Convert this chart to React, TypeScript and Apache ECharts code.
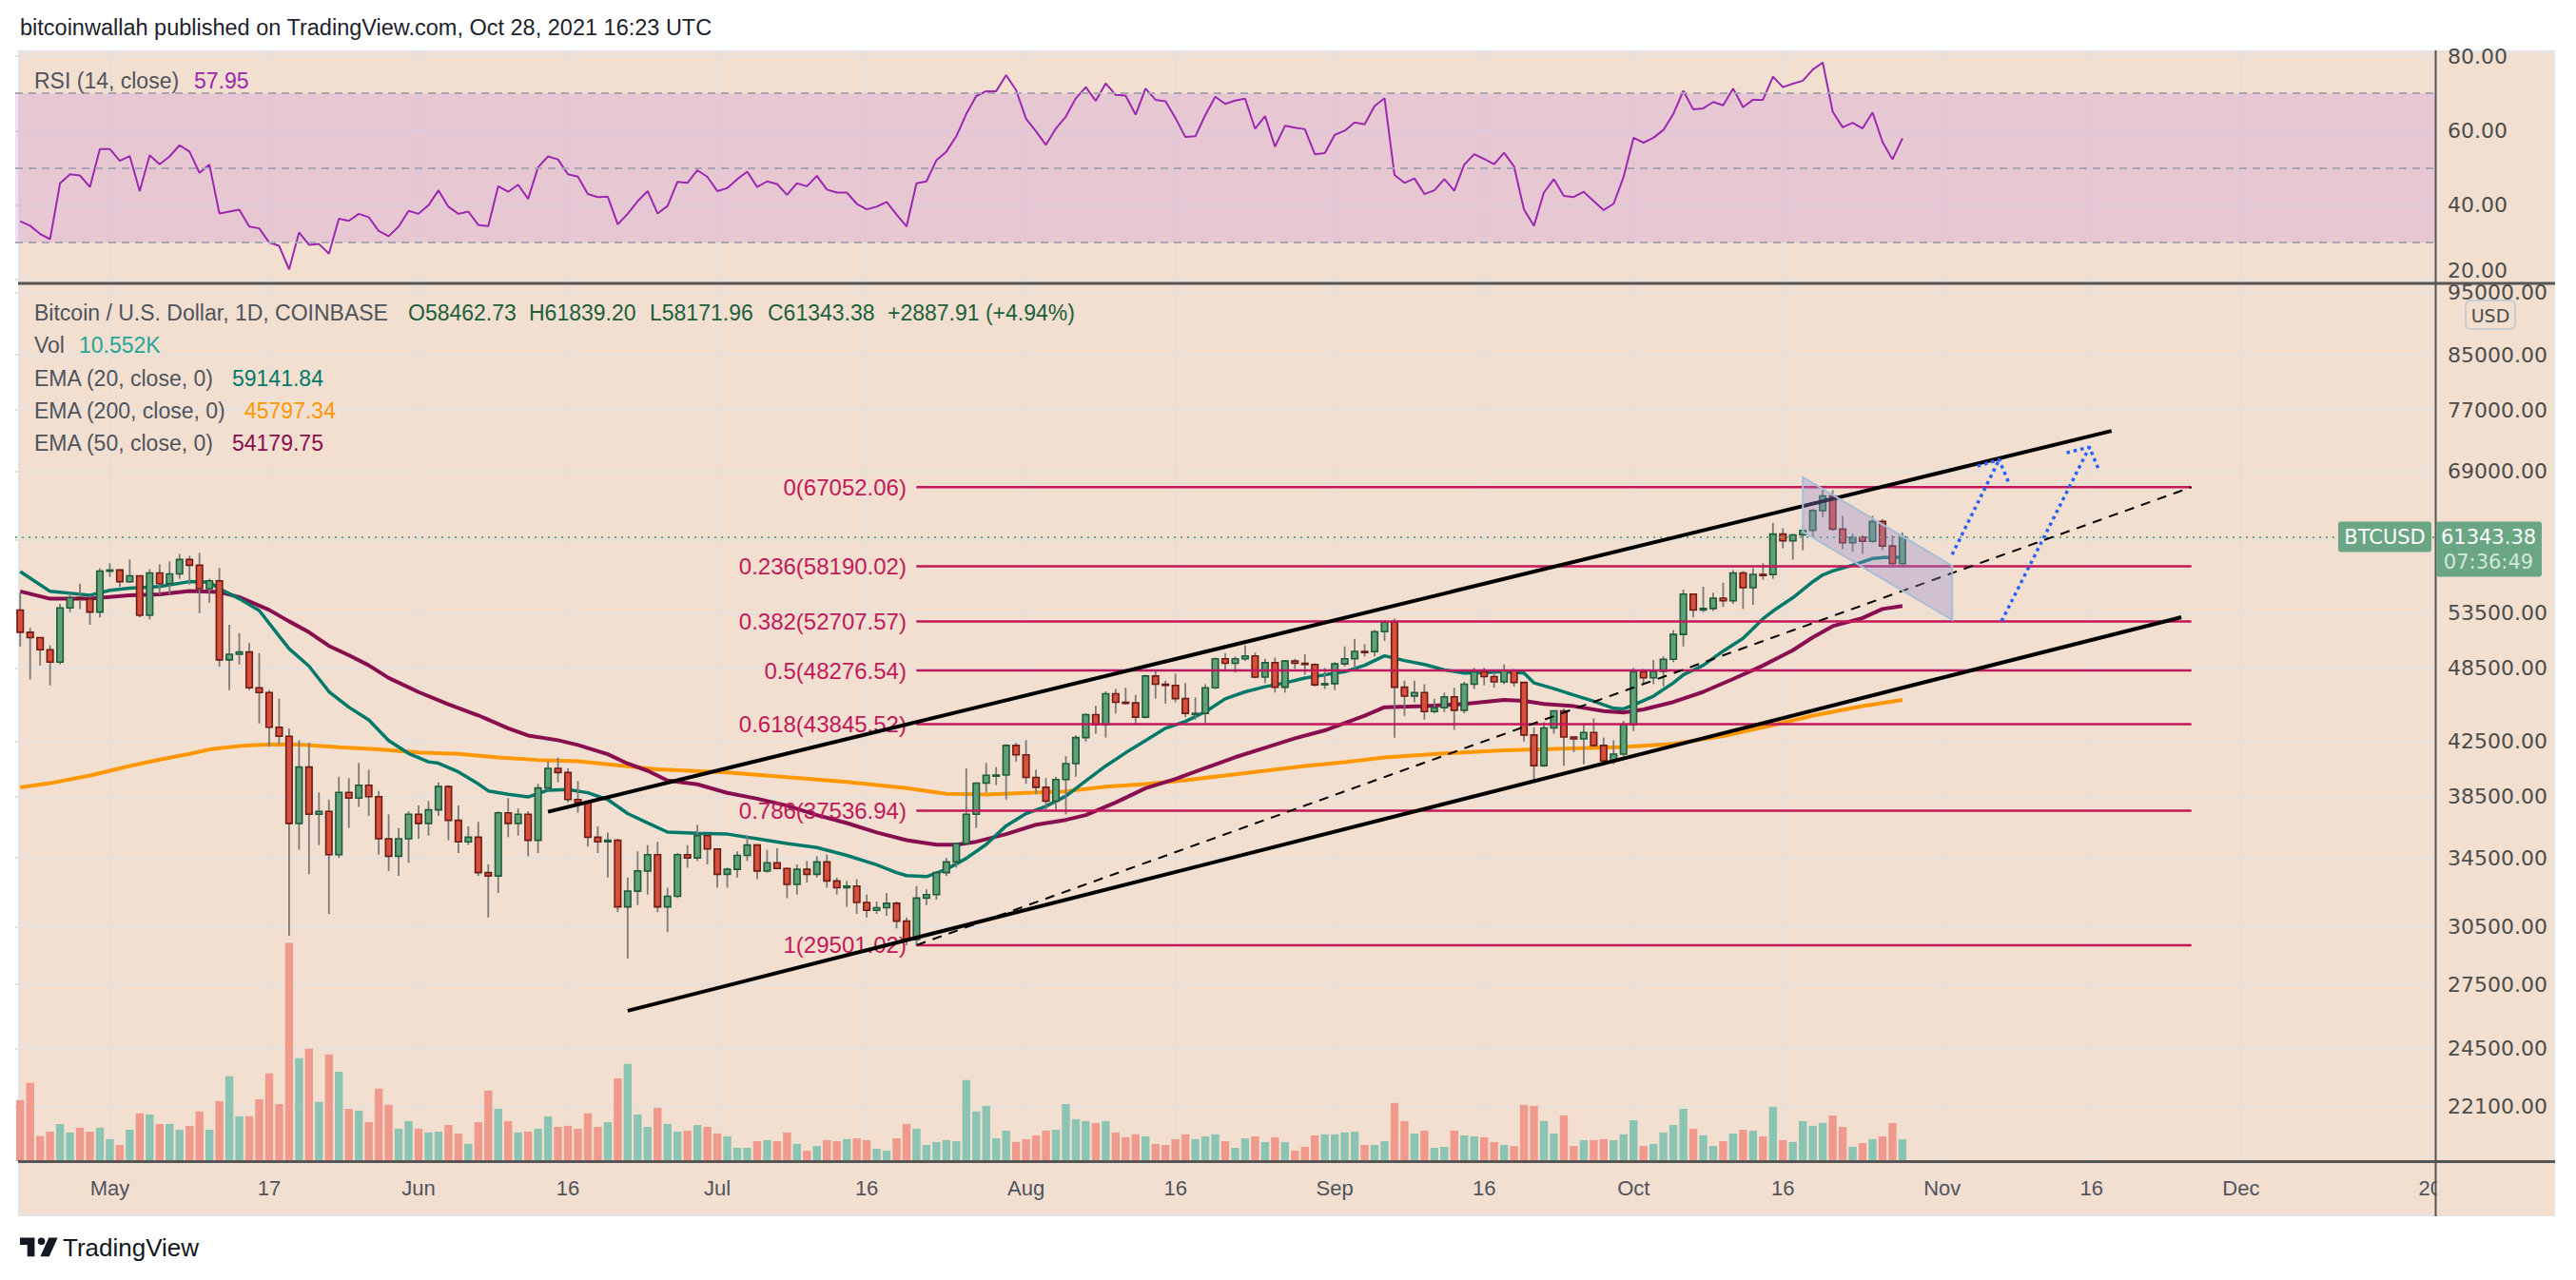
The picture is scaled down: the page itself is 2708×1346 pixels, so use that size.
import React, { useEffect, useRef } from "react";
import * as echarts from "echarts";

const W = 2708;
const H = 1346;
const SANS = '"Liberation Sans", Arial, sans-serif';
const AXF = '"DejaVu Sans", Verdana, sans-serif';

// ---------- categories (one per day, Apr 22 2021 .. Dec 20 2021) ----------
const START_UTC = Date.UTC(2021, 3, 22);
const dates: string[] = [];
for (let i = 0; i < 243; i++) dates.push(new Date(START_UTC + i * 86400000).toISOString().slice(0, 10));

const tickDates = ["2021-05-01", "2021-05-17", "2021-06-01", "2021-06-16", "2021-07-01", "2021-07-16", "2021-08-01", "2021-08-16",
  "2021-09-01", "2021-09-16", "2021-10-01", "2021-10-16", "2021-11-01", "2021-11-16", "2021-12-01", "2021-12-20"];
const tickLabels = ["May", "17", "Jun", "16", "Jul", "16", "Aug", "16", "Sep", "16", "Oct", "16", "Nov", "16", "Dec", "20"];

// ---------- OHLC (Apr 22 .. Oct 28) ----------
const opens = [
  53800, 51700, 51200, 50100, 49000, 54000, 55000, 54900, 53600, 57700,
  57800, 56600, 57200, 53300, 57500, 56400, 57400, 58900, 58300, 55900,
  56700, 49200, 49700, 49900, 46800, 46400, 43600, 42900, 36700, 40600,
  37300, 37500, 34700, 38800, 38400, 39300, 38500, 35700, 34600, 35700,
  37300, 36700, 37600, 39200, 36900, 35500, 35800, 33600, 33400, 37400,
  36700, 37300, 35600, 39100, 40500, 40200, 38300, 38100, 35800, 35500,
  35600, 31600, 32500, 33700, 34700, 31600, 32200, 34700, 34500, 35900,
  35050, 33500, 33800, 34650, 35300, 33700, 34200, 33850, 32900, 33800,
  33500, 34250, 33100, 32700, 32800, 31850, 31400, 31550, 31800, 30800,
  29800, 32100, 32300, 33600, 34250, 35400, 37300, 39450, 40000, 40020,
  42200, 41500, 39850, 39150, 38200, 39700, 40850, 42800, 44600, 43800,
  46300, 45600, 45550, 44400, 47800, 47100, 47000, 45900, 44700, 44700,
  46800, 49300, 48900, 49300, 49550, 47700, 48950, 46850, 49100, 48900,
  48800, 47050, 47150, 48850, 49300, 49950, 49930, 51750, 52650, 46850,
  46100, 46400, 44850, 45150, 46050, 44950, 47100, 48150, 47750, 47300,
  48300, 47250, 43000, 40700, 43550, 44900, 42850, 42700, 43200, 42200,
  41050, 41550, 43800, 48150, 47650, 48200, 49250, 51500, 55350, 53800,
  53950, 54950, 54700, 57500, 56000, 57350, 57340, 61650, 60900, 61550,
  62050, 64300, 66000, 62200, 60700, 61300, 60850, 63050, 60350, 58462.73,
];
const highs = [
  55500, 52100, 51200, 50500, 54400, 55500, 56400, 55200, 58000, 58500,
  57900, 58900, 57200, 57900, 58400, 58700, 59500, 59300, 59600, 56900,
  58000, 52400, 51600, 50700, 49800, 46600, 45900, 43500, 42600, 42400,
  38800, 38300, 39900, 39800, 40900, 40400, 38900, 37300, 36400, 37500,
  37900, 38200, 39500, 39300, 37900, 36500, 36800, 34100, 37500, 38400,
  37700, 37500, 39400, 41000, 41300, 40500, 39600, 38200, 36500, 36100,
  35700, 33300, 34900, 35300, 35500, 32700, 34800, 35300, 36600, 36000,
  35100, 33900, 34900, 35900, 35350, 35000, 35100, 33900, 34100, 34300,
  34600, 34700, 33300, 33100, 33200, 32300, 31900, 32400, 31900, 31000,
  32800, 32600, 33650, 34500, 35450, 40500, 39500, 40900, 40600, 42300,
  42400, 42600, 40400, 39800, 39900, 41400, 43000, 44700, 45300, 46500,
  46700, 46800, 46200, 47900, 48200, 47400, 48000, 47200, 46000, 47100,
  49400, 49800, 49500, 50500, 49850, 49300, 49400, 49200, 49300, 49700,
  48900, 48500, 49000, 50400, 51100, 50600, 51900, 52800, 52950, 47400,
  47400, 47100, 45900, 46400, 46800, 47300, 48500, 48500, 48100, 48800,
  48400, 47300, 43600, 44000, 44950, 45100, 42900, 43900, 44300, 42800,
  42600, 44100, 48500, 48400, 49200, 49500, 51900, 55800, 55400, 56100,
  55500, 56500, 57800, 57700, 58000, 58500, 62900, 62300, 61700, 62700,
  64500, 67052, 66700, 63700, 61700, 61500, 63700, 63300, 61500, 61839.2,
];
const lows = [
  50400, 47500, 48700, 47000, 48800, 53600, 53900, 52400, 53100, 57100,
  56100, 56500, 53100, 52900, 55300, 55300, 56900, 56300, 53500, 54500,
  48600, 46600, 48800, 46600, 43900, 42100, 42300, 30000, 35000, 33500,
  35300, 31200, 34500, 36400, 37800, 37200, 34700, 33700, 33400, 34200,
  35700, 35900, 37200, 35600, 34800, 35300, 33400, 31000, 32400, 35800,
  35900, 34600, 34800, 38900, 39500, 38100, 37400, 35200, 34800, 33300,
  31300, 28800, 31700, 32300, 31300, 30200, 32100, 33900, 34300, 34100,
  32700, 32700, 33300, 34300, 33200, 33600, 33800, 32100, 32300, 33000,
  33300, 32700, 32300, 31600, 31200, 31000, 31200, 31100, 30400, 29500,
  29500, 31700, 32000, 33400, 33900, 35300, 36400, 38800, 39300, 38300,
  41000, 39400, 38700, 37600, 37500, 37300, 39900, 42500, 43100, 42800,
  44700, 45400, 43800, 44300, 45900, 45500, 45600, 44400, 44200, 43900,
  46700, 48300, 48100, 49100, 47600, 47200, 46400, 46400, 48400, 47900,
  46900, 46700, 46600, 48600, 48400, 49500, 49500, 50900, 42800, 44500,
  45600, 44200, 44700, 44800, 43400, 44700, 46700, 47000, 46800, 47100,
  46900, 42500, 39600, 40600, 43100, 40700, 41700, 40800, 42100, 40900,
  40800, 41400, 43300, 47100, 47100, 46900, 49000, 50400, 53100, 53600,
  53700, 54100, 54400, 53900, 54300, 56800, 56900, 60100, 58900, 59900,
  61400, 63500, 62000, 60000, 59700, 59500, 60700, 59900, 58100, 58171.96,
];
const closes = [
  51700, 51200, 50100, 49000, 54000, 55000, 54900, 53600, 57700, 57800,
  56600, 57200, 53300, 57500, 56400, 57400, 58900, 58300, 55900, 56700,
  49200, 49700, 49900, 46800, 46400, 43600, 42900, 36700, 40600, 37300,
  37500, 34700, 38800, 38400, 39300, 38500, 35700, 34600, 35700, 37300,
  36700, 37600, 39200, 36900, 35500, 35800, 33600, 33400, 37400, 36700,
  37300, 35600, 39100, 40500, 40200, 38300, 38100, 35800, 35500, 35600,
  31600, 32500, 33700, 34700, 31600, 32200, 34700, 34500, 35900, 35050,
  33500, 33800, 34650, 35300, 33700, 34200, 33850, 32900, 33800, 33500,
  34250, 33100, 32700, 32800, 31850, 31400, 31550, 31800, 30800, 29800,
  32100, 32300, 33600, 34250, 35400, 37300, 39450, 40000, 40020, 42200,
  41500, 39850, 39150, 38200, 39700, 40850, 42800, 44600, 43800, 46300,
  45600, 45550, 44400, 47800, 47100, 47000, 45900, 44700, 44700, 46800,
  49300, 48900, 49300, 49550, 47700, 48950, 46850, 49100, 48900, 48800,
  47050, 47150, 48850, 49300, 49950, 49930, 51750, 52650, 46850, 46100,
  46400, 44850, 45150, 46050, 44950, 47100, 48150, 47750, 47300, 48300,
  47250, 43000, 40700, 43550, 44900, 42850, 42700, 43200, 42200, 41050,
  41550, 43800, 48150, 47650, 48200, 49250, 51500, 55350, 53800, 53950,
  54950, 54700, 57500, 56000, 57350, 57340, 61650, 60900, 61550, 62050,
  64300, 66000, 62200, 60700, 61300, 60850, 63050, 60350, 58460, 61343.38,
];

// ---------- volume (thousand BTC) ----------
const volumesK = [
  29.4, 37.8, 12.1, 14.2, 17.9, 13.8, 16.1, 14.2, 16.1, 10.6,
  7.8, 15.1, 23.0, 22.5, 17.9, 17.9, 15.1, 17.0, 23.9, 15.1,
  28.9, 40.9, 21.6, 21.6, 29.8, 42.2, 27.5, 105.1, 49.6, 54.2,
  28.5, 51.4, 43.1, 25.2, 24.3, 18.8, 34.9, 27.1, 15.6, 19.3,
  15.6, 13.8, 14.2, 17.4, 13.3, 8.3, 18.8, 34.0, 25.2, 19.3,
  13.8, 14.2, 15.6, 21.6, 16.5, 17.0, 15.6, 23.0, 16.5, 18.8,
  39.9, 46.8, 22.5, 16.5, 25.7, 17.9, 14.2, 14.7, 17.4, 16.5,
  13.3, 11.9, 6.4, 6.4, 9.6, 10.1, 9.6, 13.8, 8.3, 5.0,
  7.3, 10.1, 9.6, 10.6, 11.0, 10.1, 6.0, 5.0, 11.0, 17.9,
  15.6, 7.8, 9.2, 10.1, 9.6, 39.0, 23.9, 26.6, 11.0, 14.7,
  9.2, 10.6, 12.4, 14.7, 15.1, 27.5, 20.2, 19.3, 18.4, 19.3,
  13.8, 11.5, 12.9, 11.9, 8.3, 7.8, 10.6, 12.9, 10.6, 11.9,
  12.9, 9.6, 6.4, 11.0, 11.9, 9.2, 11.5, 9.2, 5.0, 6.9,
  12.4, 12.9, 12.9, 13.8, 14.2, 7.8, 7.8, 9.6, 28.0, 19.3,
  13.3, 14.7, 6.4, 6.9, 14.7, 12.4, 11.9, 11.5, 9.2, 7.8,
  7.3, 27.1, 26.6, 19.3, 13.3, 22.0, 7.3, 10.1, 10.1, 10.6,
  10.1, 12.9, 19.7, 7.3, 8.3, 13.8, 17.4, 25.2, 15.6, 12.4,
  7.3, 9.6, 13.3, 15.1, 14.7, 11.9, 26.2, 10.1, 9.2, 19.3,
  17.0, 18.4, 22.0, 16.5, 6.9, 8.7, 10.6, 11.9, 18.4, 10.552,
];

// ---------- RSI (14) ----------
const rsiValues = [
  35.7, 34.5, 32.3, 30.9, 45.9, 48.3, 48.0, 44.9, 55.1, 55.1,
  51.9, 53.2, 43.8, 53.4, 51.0, 53.1, 56.1, 54.4, 48.7, 50.9,
  37.8, 38.3, 38.8, 34.3, 33.8, 30.0, 29.1, 22.8, 32.7, 29.4,
  29.6, 27.0, 36.4, 35.8, 37.7, 36.8, 33.1, 31.7, 34.3, 38.5,
  37.7, 40.0, 44.0, 39.6, 37.7, 38.3, 34.7, 34.4, 45.1, 43.6,
  45.5, 41.7, 50.2, 53.1, 52.3, 48.3, 47.7, 43.0, 42.2, 42.3,
  34.9, 37.7, 41.1, 43.8, 37.8, 39.8, 46.3, 46.0, 49.4, 47.6,
  43.8, 44.6, 47.0, 49.0, 44.9, 46.4, 45.7, 42.8, 45.9, 45.1,
  47.9, 44.2, 43.4, 43.4, 40.4, 38.9, 39.6, 40.9, 37.5, 34.3,
  45.9, 46.4, 52.1, 54.4, 58.5, 64.5, 69.3, 70.6, 70.6, 74.9,
  70.9, 63.2, 59.8, 56.2, 60.6, 63.8, 68.7, 71.7, 68.0, 72.7,
  69.6, 69.4, 64.3, 71.3, 68.3, 67.9, 63.4, 58.3, 58.5, 64.2,
  69.1, 67.2, 68.1, 68.6, 60.5, 63.9, 55.7, 61.3, 60.8, 60.4,
  53.7, 54.0, 58.9, 60.0, 62.2, 61.7, 66.6, 68.7, 48.1, 46.0,
  47.2, 43.0, 44.0, 47.0, 43.9, 50.9, 53.7, 52.4, 51.0, 54.1,
  50.4, 38.9, 34.5, 43.4, 47.0, 42.5, 42.2, 43.6, 41.1, 38.7,
  40.4, 47.6, 58.1, 56.8, 58.1, 60.2, 64.5, 70.7, 65.7, 66.0,
  67.7, 66.8, 71.3, 66.3, 68.3, 68.3, 74.5, 71.7, 72.6, 73.4,
  76.4, 78.3, 65.1, 60.9, 62.1, 60.6, 64.9, 57.0, 52.3, 57.95,
];

// ---------- EMAs: [day index, value] ----------
const ema20 = [
  [0, 57650], [3, 55630], [7, 55250], [9, 55740], [11, 55960], [14, 56120], [17, 56610], [19, 56550], [20, 55900],
  [22, 54900], [24, 53750], [26, 51350], [27, 50200], [29, 48650], [31, 46480], [33, 45200], [35, 44180], [37, 42570],
  [39, 41600], [41, 40980], [42, 40880], [44, 40250], [46, 39390], [47, 38900], [49, 38670], [51, 38480], [53, 38950],
  [55, 39000], [57, 38770], [59, 38300], [61, 37350], [63, 36730], [65, 36130], [68, 36060], [71, 36000], [74, 35700],
  [77, 35400], [80, 35140], [83, 34650], [86, 34070], [88, 33600], [89, 33420], [91, 33360], [93, 33800], [95, 34470],
  [97, 35340], [99, 36540], [101, 37350], [103, 37840], [105, 38540], [107, 39600], [109, 40680], [111, 41650],
  [113, 42570], [115, 43520], [117, 44060], [119, 44830], [121, 45880], [123, 46460], [125, 46890], [127, 47210],
  [129, 47620], [131, 47900], [133, 48170], [135, 48720], [137, 49560], [139, 49140], [141, 48800], [143, 48330],
  [145, 48050], [147, 48100], [149, 48170], [151, 48050], [152, 47210], [154, 46730], [156, 46200], [158, 45680],
  [160, 45110], [161, 45060], [162, 45370], [164, 46100], [166, 47210], [167, 47900], [169, 48720], [171, 49980],
  [173, 51140], [175, 52960], [176, 53700], [178, 55000], [180, 56600], [181, 57300], [182, 57700], [184, 58300],
  [186, 59000], [187, 59100], [189, 59141.84],
];
const ema50 = [
  [0, 55630], [3, 54900], [7, 54900], [11, 55230], [14, 55330], [17, 55660], [20, 55560], [22, 55060], [25, 53810],
  [27, 52720], [29, 51700], [31, 50450], [33, 49610], [35, 48720], [37, 47630], [40, 46440], [43, 45430], [46, 44540],
  [49, 43520], [51, 42960], [54, 42600], [56, 42240], [59, 41540], [61, 40850], [63, 40330], [65, 39630], [68, 39360],
  [71, 38760], [74, 38360], [77, 37890], [80, 37250], [83, 36720], [86, 36110], [89, 35610], [92, 35320], [94, 35320],
  [96, 35510], [99, 36000], [102, 36610], [105, 36930], [107, 37250], [110, 38100], [113, 39090], [116, 39740],
  [119, 40530], [122, 41320], [125, 42030], [128, 42750], [131, 43360], [135, 44510], [137, 45200], [141, 45280],
  [145, 45460], [149, 45800], [151, 45720], [153, 45460], [156, 45280], [159, 44890], [161, 44770], [163, 45020],
  [166, 45620], [169, 46460], [172, 47540], [175, 48700], [178, 50060], [180, 51220], [182, 52270], [185, 53030],
  [187, 53900], [189, 54179.75],
];
const ema200 = [
  [0, 39140], [3, 39440], [7, 39990], [11, 40680], [14, 41150], [17, 41570], [19, 41900], [22, 42160], [25, 42280],
  [28, 42260], [32, 42070], [36, 41900], [40, 41680], [44, 41570], [48, 41300], [52, 41120], [56, 41030], [60, 40720],
  [64, 40440], [71, 40210], [77, 39870], [83, 39530], [89, 39090], [93, 38700], [97, 38650], [101, 38760], [105, 38870],
  [109, 39200], [113, 39380], [117, 39650], [121, 39990], [125, 40330], [129, 40680], [133, 40960], [137, 41300],
  [143, 41610], [149, 41840], [155, 41960], [161, 42080], [166, 42320], [171, 42920], [176, 43770], [180, 44520],
  [185, 45290], [189, 45797.34],
];

// ---------- drawings ----------
const fibLevels = [67052.06, 58190.02, 52707.57, 48276.54, 43845.52, 37536.94, 29501.02];
const fibRatios = ["0", "0.236", "0.382", "0.5", "0.618", "0.786", "1"];
const fibStart = 90;
const fibEnd = 218;
const upperChannel = [[53, 37470], [210, 74170]];
const lowerChannel = [[61, 26230], [217, 53110]];
const fibTrend = [[90, 29501.02], [218, 67052.06]];
const flagCorners = [[179, 68270], [194, 58230], [194, 52860], [179, 61900]];
const arrow1Shaft = [[193.99, 59430], [198.71, 70440]];
const arrow1Head = [[196.54, 69640], [198.71, 70440], [199.67, 67620]];
const arrow2Shaft = [[198.96, 52740], [207.78, 72050]];
const arrow2Head = [[205.49, 71320], [207.78, 72050], [208.67, 69320]];

// ---------- axis ticks ----------
const priceLabelValues = [22100, 24500, 27500, 30500, 34500, 38500, 42500, 48500, 53500, 69000, 77000, 85000, 95000];
const priceGridValues = [22100, 24500, 27500, 30500, 34500, 38500, 42500, 48500, 53500, 61000, 69000, 77000, 85000, 95000];
const rsiTickValues = [20, 40, 60, 80];

// ---------- colours ----------
const PEACH = "#f2dfcf";
const GRID_C = "#e6e0dc";
const UP_FILL = "#5fa078";
const UP_EDGE = "#1f5c3b";
const DN_FILL = "#d8503c";
const DN_EDGE = "#6c1c16";
const WICK = "#7a7a7a";
const VOL_UP = "#8cc4b4";
const VOL_DN = "#f0998d";
const FIB = "#c2185b";
const TAG = "#6aa584";
const AX_TXT = "#4c4c4c";

echarts.graphic.registerShape(
  "tvlogo",
  echarts.graphic.extendPath(
    "M14 22H7V11H0V4H14Z M24 7.5A3.5 3.5 0 1 1 17 7.5A3.5 3.5 0 1 1 24 7.5Z M28 22H19.5L27.5 4H36Z",
    {}
  )
);

function txt(text: string, x: number, y: number, fill: string, size: number, family = SANS, align = "left", extra: any = {}) {
  return {
    type: "text",
    x,
    y,
    z: 100,
    silent: true,
    style: { text, fill, fontSize: size, fontFamily: family, align, verticalAlign: "middle", ...extra },
  };
}

function buildOption() {
  const nCat = dates.length;
  const tickIdx = tickDates.map((d) => dates.indexOf(d));
  const labelOf: Record<number, string> = {};
  tickIdx.forEach((ix, k) => (labelOf[ix] = tickLabels[k]));

  const xBase = (gridIndex: number, showLabel: boolean, showSplit: boolean) => ({
    type: "value",
    gridIndex,
    min: -0.5,
    max: nCat - 0.5,
    axisLine: { show: false },
    axisTick: { show: false, customValues: tickIdx },
    axisLabel: {
      show: showLabel,
      customValues: tickIdx,
      formatter: (v: number) => labelOf[Math.round(v)] ?? "",
      color: "#50535e",
      fontSize: 22,
      fontFamily: SANS,
      margin: 17,
    },
    splitLine: { show: showSplit, lineStyle: { color: GRID_C, width: 2 } },
  });

  const candleData = opens.map((o, i) => [i, o, closes[i], lows[i], highs[i]]);
  const lastClose = closes[closes.length - 1];

  const fibSeries = fibLevels.map((lv, k) => ({
    type: "line",
    xAxisIndex: 1,
    yAxisIndex: 1,
    z: 4,
    silent: true,
    symbol: "circle",
    symbolSize: 1,
    showSymbol: true,
    itemStyle: { color: FIB },
    lineStyle: { color: FIB, width: 2.5 },
    data: [
      {
        value: [fibStart, lv],
        label: {
          show: true,
          position: "left",
          distance: 10,
          formatter: `${fibRatios[k]}(${lv.toFixed(2)})`,
          color: FIB,
          fontSize: 24,
          fontFamily: SANS,
        },
      },
      { value: [fibEnd, lv] },
    ],
  }));

  const simpleLine = (data: number[][], color: string, width: number, type: any, z = 5) => ({
    type: "line",
    xAxisIndex: 1,
    yAxisIndex: 1,
    z,
    silent: true,
    symbol: "none",
    data,
    lineStyle: { color, width, type, cap: "butt" },
  });

  return {
    animation: false,
    backgroundColor: "transparent",
    textStyle: { fontFamily: SANS },
    grid: [
      { left: 16, top: 53, width: 2544, height: 245 },
      { left: 16, top: 300, width: 2544, height: 921 },
      { left: 16, top: 959, width: 2544, height: 262 },
    ],
    xAxis: [xBase(0, false, true), xBase(1, true, true), xBase(2, false, false)],
    yAxis: [
      {
        type: "value",
        gridIndex: 0,
        position: "right",
        min: 19.04,
        max: 81.54,
        axisLine: { show: false },
        axisTick: { show: false, customValues: rsiTickValues },
        axisLabel: {
          customValues: rsiTickValues,
          formatter: (v: number) => (Math.round(v) === 20 ? "{lo|20.00}" : v.toFixed(2)),
          color: AX_TXT,
          fontSize: 22,
          fontFamily: AXF,
          margin: 13,
          rich: {
            lo: { color: AX_TXT, fontSize: 22, fontFamily: AXF, padding: [0, 0, 20, 0] },
          },
        },
        splitLine: { show: true, lineStyle: { color: GRID_C, width: 2 } },
      },
      {
        type: "log",
        logBase: 10,
        gridIndex: 1,
        position: "right",
        min: 20030,
        max: 96300,
        axisLine: { show: false },
        axisTick: { show: false, customValues: priceGridValues },
        axisLabel: {
          customValues: priceLabelValues,
          formatter: (v: number) => Number(v).toFixed(2),
          color: AX_TXT,
          fontSize: 22,
          fontFamily: AXF,
          margin: 13,
        },
        splitLine: { show: true, lineStyle: { color: GRID_C, width: 2 } },
      },
      { type: "value", gridIndex: 2, min: 0, max: 120, show: false, splitLine: { show: false } },
    ],
    series: [
      {
        name: "Vol",
        type: "bar",
        xAxisIndex: 2,
        yAxisIndex: 2,
        barWidth: 8.4,
        z: 1,
        silent: true,
        data: volumesK.map((v, i) => ({
          value: [i, v],
          itemStyle: { color: closes[i] >= opens[i] ? VOL_UP : VOL_DN },
        })),
      },
      {
        name: "RSI",
        type: "line",
        xAxisIndex: 0,
        yAxisIndex: 0,
        symbol: "none",
        z: 3,
        silent: true,
        data: rsiValues.map((v, i) => [i, v]),
        lineStyle: { color: "#9c27b0", width: 2 },
        markArea: {
          silent: true,
          itemStyle: { color: "rgba(205,150,220,0.3)" },
          data: [[{ yAxis: 70 }, { yAxis: 30 }]],
        },
        markLine: {
          silent: true,
          symbol: ["none", "none"],
          label: { show: false },
          lineStyle: { type: [8, 6], color: "#aaa4b6", width: 2 },
          data: [{ yAxis: 70 }, { yAxis: 50 }, { yAxis: 30 }],
        },
      },
      {
        name: "EMA200",
        type: "line",
        xAxisIndex: 1,
        yAxisIndex: 1,
        symbol: "none",
        z: 2,
        silent: true,
        data: ema200,
        lineStyle: { color: "#ff9800", width: 4 },
      },
      {
        name: "EMA50",
        type: "line",
        xAxisIndex: 1,
        yAxisIndex: 1,
        symbol: "none",
        z: 2,
        silent: true,
        data: ema50,
        lineStyle: { color: "#880e4f", width: 4 },
      },
      {
        name: "EMA20",
        type: "line",
        xAxisIndex: 1,
        yAxisIndex: 1,
        symbol: "none",
        z: 2,
        silent: true,
        data: ema20,
        lineStyle: { color: "#00796b", width: 3.5 },
        markLine: {
          silent: true,
          symbol: ["none", "none"],
          label: { show: false },
          lineStyle: { type: [2, 5], color: TAG, width: 2 },
          data: [{ yAxis: lastClose }],
        },
      },
      {
        name: "BTCUSD",
        type: "custom",
        xAxisIndex: 1,
        yAxisIndex: 1,
        z: 3,
        silent: true,
        data: candleData,
        encode: { x: 0, y: [1, 2, 3, 4] },
        renderItem: (params: any, api: any) => {
          const i = api.value(0);
          const o = api.value(1);
          const c = api.value(2);
          const l = api.value(3);
          const h = api.value(4);
          const band = api.size([1, 1], [i, c])[0];
          const bw = band * 0.62;
          const pO = api.coord([i, o]);
          const pC = api.coord([i, c]);
          const pL = api.coord([i, l]);
          const pH = api.coord([i, h]);
          const up = c >= o;
          const top = Math.min(pO[1], pC[1]);
          const hgt = Math.max(Math.abs(pO[1] - pC[1]), 1.2);
          return {
            type: "group",
            children: [
              {
                type: "line",
                shape: { x1: pH[0], y1: pH[1], x2: pL[0], y2: pL[1] },
                style: { stroke: WICK, lineWidth: 1.8 },
              },
              {
                type: "rect",
                shape: { x: pO[0] - bw / 2, y: top, width: bw, height: hgt },
                style: { fill: up ? UP_FILL : DN_FILL, stroke: up ? UP_EDGE : DN_EDGE, lineWidth: 1.6 },
              },
            ],
          };
        },
      },
      ...fibSeries,
      simpleLine(upperChannel, "#000000", 4, "solid"),
      simpleLine(lowerChannel, "#000000", 4, "solid"),
      simpleLine(fibTrend, "#000000", 2, [10, 8]),
      {
        name: "flag",
        type: "custom",
        xAxisIndex: 1,
        yAxisIndex: 1,
        z: 6,
        silent: true,
        data: [[0]],
        renderItem: (params: any, api: any) => ({
          type: "polygon",
          shape: { points: flagCorners.map((p) => api.coord(p)) },
          style: { fill: "rgba(150,138,205,0.36)", stroke: "#a8bed6", lineWidth: 2 },
        }),
      },
      simpleLine(arrow1Shaft, "#2962ff", 3.5, [3.5, 4], 7),
      simpleLine(arrow1Head, "#2962ff", 3.5, [3.5, 4], 7),
      simpleLine(arrow2Shaft, "#2962ff", 3.5, [3.5, 4], 7),
      simpleLine(arrow2Head, "#2962ff", 3.5, [3.5, 4], 7),
    ],
  };
}

function buildGraphic(py: number) {
  const G = "#4f535d";
  const GREEN = "#1d5e3c";
  const els: any[] = [
    // pane separators & axis lines
    { type: "rect", z: 90, silent: true, shape: { x: 2562, y: 1223, width: 123, height: 55 }, style: { fill: PEACH } },
    { type: "line", z: 100, silent: true, shape: { x1: 19, y1: 298, x2: 2686, y2: 298 }, style: { stroke: "#555555", lineWidth: 3 } },
    { type: "line", z: 100, silent: true, shape: { x1: 19, y1: 1221.5, x2: 2686, y2: 1221.5 }, style: { stroke: "#555555", lineWidth: 3 } },
    { type: "line", z: 100, silent: true, shape: { x1: 2560.5, y1: 53, x2: 2560.5, y2: 1279 }, style: { stroke: "#555555", lineWidth: 2 } },
    // header / footer
    txt("bitcoinwallah published on TradingView.com, Oct 28, 2021 16:23 UTC", 21, 29, "#1e222d", 23.5),
    { type: "tvlogo", z: 100, silent: true, x: 21, y: 1297, scaleX: 1.1, scaleY: 1.1, style: { fill: "#131722" } },
    txt("TradingView", 66, 1312, "#131722", 26),
    // RSI legend
    txt("RSI (14, close)", 36, 85, G, 23),
    txt("57.95", 204, 85, "#9c27b0", 23),
    // price legend
    txt("Bitcoin / U.S. Dollar, 1D, COINBASE", 36, 329, G, 23),
    txt("O58462.73", 429, 329, GREEN, 23),
    txt("H61839.20", 556, 329, GREEN, 23),
    txt("L58171.96", 683, 329, GREEN, 23),
    txt("C61343.38", 807, 329, GREEN, 23),
    txt("+2887.91 (+4.94%)", 933, 329, GREEN, 23),
    txt("Vol", 36, 363, G, 23),
    txt("10.552K", 83, 363, "#26a69a", 23),
    txt("EMA (20, close, 0)", 36, 398, G, 23),
    txt("59141.84", 244, 398, "#00796b", 23),
    txt("EMA (200, close, 0)", 36, 432, G, 23),
    txt("45797.34", 257, 432, "#ff9800", 23),
    txt("EMA (50, close, 0)", 36, 466, G, 23),
    txt("54179.75", 244, 466, "#880e4f", 23),
    // USD badge
    { type: "rect", z: 100, silent: true, shape: { x: 2592, y: 316, width: 52, height: 30, r: 5 }, style: { fill: PEACH, stroke: "#c6cbd4", lineWidth: 2 } },
    txt("USD", 2618, 331.5, AX_TXT, 19, AXF, "center"),
    // price tags
    { type: "rect", z: 100, silent: true, shape: { x: 2458, y: py - 16, width: 98, height: 32, r: 3 }, style: { fill: TAG } },
    txt("BTCUSD", 2507, py, "#ffffff", 21, AXF, "center"),
    { type: "rect", z: 100, silent: true, shape: { x: 2561, y: py - 16, width: 111, height: 58, r: 3 }, style: { fill: TAG } },
    txt("61343.38", 2616, py, "#ffffff", 21, AXF, "center"),
    txt("07:36:49", 2616, py + 26, "#d3e8da", 21, AXF, "center"),
  ];
  return els;
}

export default function App() {
  const ref = useRef<HTMLDivElement>(null);
  useEffect(() => {
    const el = ref.current;
    if (!el) return;
    const chart = echarts.init(el, null, { renderer: "svg" });
    chart.setOption(buildOption() as any);
    let py = chart.convertToPixel({ yAxisIndex: 1 } as any, closes[closes.length - 1]) as unknown as number;
    if (typeof py !== "number" || !isFinite(py)) py = 563;
    chart.setOption({ graphic: buildGraphic(py) } as any);
    return () => chart.dispose();
  }, []);
  return (
    <div style={{ position: "absolute", left: 0, top: 0, width: W, height: H, background: "#ffffff", overflow: "hidden" }}>
      <div
        style={{
          position: "absolute",
          left: 19,
          top: 53,
          width: 2667,
          height: 1226,
          background: PEACH,
          boxSizing: "border-box",
          border: "2px solid #e1e3e9",
        }}
      />
      <div ref={ref} style={{ position: "absolute", left: 0, top: 0, width: W, height: H }} />
    </div>
  );
}
